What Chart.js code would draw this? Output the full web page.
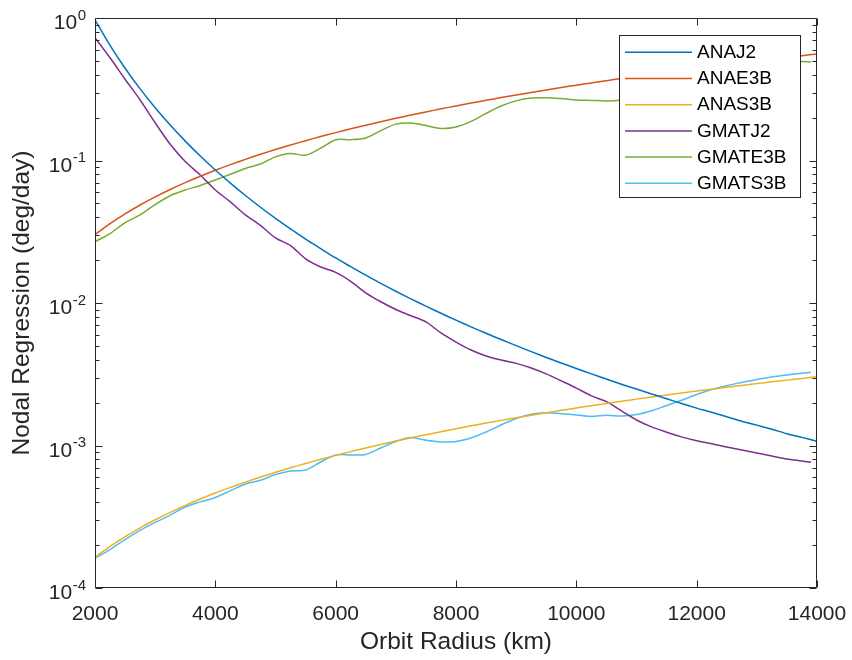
<!DOCTYPE html>
<html>
<head>
<meta charset="utf-8">
<script src="https://cdn.jsdelivr.net/npm/chart.js@4/dist/chart.umd.min.js"></script>
<style>
  html, body { margin: 0; padding: 0; background: #ffffff; }
  canvas { display: block; }
</style>
</head>
<body>
<canvas id="chart" width="852" height="660" style="width:852px;height:660px"></canvas>
<script>
// Orbit radius samples (km) for the analytical models
const radiusKm = [2000,2250,2500,2750,3000,3250,3500,3750,4000,4250,4500,4750,5000,5250,5500,5750,
  6000,6250,6500,6750,7000,7250,7500,7750,8000,8250,8500,8750,9000,9250,9500,9750,
  10000,10250,10500,10750,11000,11250,11500,11750,12000,12250,12500,12750,13000,13250,13500,13750,14000];

// Orbit radius samples (km) for the GMAT propagations
const gmatRadiusKm = [2000,2250,2500,2750,3000,3250,3500,3750,4000,4250,4500,4750,5000,5250,5500,5750,
  6000,6250,6500,6750,7000,7250,7500,7750,8000,8250,8500,8750,9000,9250,9500,9750,
  10000,10250,10500,10750,11000,11250,11500,11750,12000,12250,12500,12750,13000,13250,13500,13750,13900];

// Nodal regression rates (deg/day)
const anaJ2 = [0.970,0.642,0.444,0.318,0.2347,0.1773,0.1368,0.1075,0.0857,0.0694,0.0568,0.0470,0.0393,0.0331,
  0.0281,0.0241,0.0207,0.0180,0.01567,0.01373,0.01209,0.01070,0.00950,0.00847,0.00758,0.00680,0.00613,
  0.00554,0.00502,0.00456,0.00415,0.00379,0.00347,0.00318,0.00293,0.00269,0.00249,0.00230,0.00213,0.00197,
  0.00183,0.00171,0.00159,0.00148,0.00139,0.00130,0.00121,0.00114,0.00107];

const anaE3B = [0.0302,0.0360,0.0422,0.0487,0.0555,0.0626,0.0699,0.0775,0.0854,0.0935,0.1019,0.1105,0.1194,
  0.1284,0.1377,0.1472,0.1569,0.1668,0.1769,0.1872,0.1977,0.2084,0.2193,0.2304,0.2416,0.2530,0.2646,0.2764,
  0.2883,0.3004,0.3126,0.3251,0.3376,0.3504,0.3633,0.3763,0.3895,0.4029,0.4164,0.4300,0.4438,0.4578,0.4719,
  0.4861,0.5005,0.5150,0.5296,0.5444,0.5593];

const anaS3B = [1.640e-4,1.957e-4,2.292e-4,2.644e-4,3.013e-4,3.397e-4,3.797e-4,4.211e-4,4.639e-4,5.080e-4,
  5.535e-4,6.003e-4,6.483e-4,6.975e-4,7.479e-4,7.995e-4,8.522e-4,9.060e-4,9.609e-4,1.0168e-3,1.0739e-3,
  1.1319e-3,1.1909e-3,1.2510e-3,1.3120e-3,1.3740e-3,1.4369e-3,1.5008e-3,1.5655e-3,1.6312e-3,1.6978e-3,
  1.7652e-3,1.8336e-3,1.9028e-3,1.9728e-3,2.0437e-3,2.1154e-3,2.1879e-3,2.2612e-3,2.3354e-3,2.4103e-3,
  2.4860e-3,2.5625e-3,2.6398e-3,2.7178e-3,2.7966e-3,2.8761e-3,2.9563e-3,3.0373e-3];

const gmatJ2 = [0.727,0.526,0.372,0.266,0.184,0.130,0.0984,0.0791,0.0621,0.0512,0.0415,0.0350,0.0286,0.0253,
  0.0204,0.0179,0.0164,0.0142,0.0118,0.0102,0.0090,0.00814,0.00736,0.00616,0.00532,0.00468,0.00425,0.00398,
  0.00377,0.00350,0.00318,0.00284,0.00253,0.00223,0.00203,0.00175,0.00151,0.00135,0.00124,0.00115,0.00108,
  0.00103,0.000976,0.000929,0.000885,0.000843,0.000803,0.000778,0.000762];

const gmatE3B = [0.0269,0.0307,0.0367,0.0415,0.0491,0.0566,0.0621,0.0668,0.0730,0.0800,0.0879,0.0945,0.106,
  0.112,0.109,0.122,0.140,0.140,0.144,0.162,0.180,0.183,0.176,0.168,0.172,0.188,0.214,0.241,0.262,0.274,
  0.276,0.272,0.266,0.264,0.262,0.266,0.279,0.303,0.328,0.350,0.367,0.385,0.411,0.432,0.453,0.468,0.483,
  0.495,0.491];

const gmatS3B = [1.616e-4,1.862e-4,2.188e-4,2.535e-4,2.884e-4,3.25e-4,3.70e-4,4.02e-4,4.32e-4,4.82e-4,
  5.37e-4,5.70e-4,6.25e-4,6.62e-4,6.73e-4,7.66e-4,8.58e-4,8.58e-4,8.65e-4,9.60e-4,1.067e-3,1.138e-3,
  1.087e-3,1.059e-3,1.067e-3,1.129e-3,1.245e-3,1.393e-3,1.547e-3,1.659e-3,1.699e-3,1.671e-3,1.637e-3,
  1.599e-3,1.629e-3,1.611e-3,1.648e-3,1.753e-3,1.910e-3,2.076e-3,2.280e-3,2.472e-3,2.630e-3,2.769e-3,
  2.909e-3,3.027e-3,3.126e-3,3.217e-3,3.266e-3];

const seriesNames = ['ANAJ2', 'ANAE3B', 'ANAS3B', 'GMATJ2', 'GMATE3B', 'GMATS3B'];
const seriesColors = ['#0072BD', '#D95319', '#EDB120', '#7E2F8E', '#77AC30', '#4DBEEE'];

// Axis tick labels
const xTickValues = [2000, 4000, 6000, 8000, 10000, 12000, 14000];
const yTickExponents = [-4, -3, -2, -1, 0];

const FONT = "'Liberation Sans', Arial, Helvetica, sans-serif";
const AXIS_COLOR = '#262626';

function toPoints(xs, ys) {
  return xs.map((x, i) => ({ x: x, y: ys[i] }));
}

const seriesData = [
  toPoints(radiusKm, anaJ2),
  toPoints(radiusKm, anaE3B),
  toPoints(radiusKm, anaS3B),
  toPoints(gmatRadiusKm, gmatJ2),
  toPoints(gmatRadiusKm, gmatE3B),
  toPoints(gmatRadiusKm, gmatS3B)
];

// Box, inward ticks, superscript y labels and the in-plot legend
const matlabAxesPlugin = {
  id: 'matlabAxes',
  afterDatasetsDraw(chart) {
    const ctx = chart.ctx;
    const area = chart.chartArea;
    const xs = chart.scales.x;
    const ys = chart.scales.y;
    const L = Math.round(area.left) + 0.5;
    const R = Math.round(area.right) - 0.5;
    const T = Math.round(area.top) + 0.5;
    const B = Math.round(area.bottom) - 0.5;
    ctx.save();
    ctx.strokeStyle = AXIS_COLOR;
    ctx.lineWidth = 1;
    ctx.beginPath();
    ctx.rect(L, T, R - L, B - T);
    ctx.stroke();

    const major = 7, minor = 4;
    ctx.beginPath();
    xTickValues.forEach(v => {
      const px = Math.round(xs.getPixelForValue(v)) + 0.5;
      ctx.moveTo(px, B); ctx.lineTo(px, B - major);
      ctx.moveTo(px, T); ctx.lineTo(px, T + major);
    });
    yTickExponents.forEach((e, idx) => {
      const py = Math.round(ys.getPixelForValue(Math.pow(10, e))) + 0.5;
      ctx.moveTo(L, py); ctx.lineTo(L + major, py);
      ctx.moveTo(R, py); ctx.lineTo(R - major, py);
      if (idx < yTickExponents.length - 1) {
        for (let m = 2; m <= 9; m++) {
          const pm = Math.round(ys.getPixelForValue(m * Math.pow(10, e))) + 0.5;
          ctx.moveTo(L, pm); ctx.lineTo(L + minor, pm);
          ctx.moveTo(R, pm); ctx.lineTo(R - minor, pm);
        }
      }
    });
    ctx.stroke();

    // y tick labels as 10 with a raised exponent
    ctx.fillStyle = AXIS_COLOR;
    ctx.textBaseline = 'middle';
    ctx.textAlign = 'right';
    yTickExponents.forEach(e => {
      const py = ys.getPixelForValue(Math.pow(10, e));
      const expText = String(e);
      const rightEdge = area.left - 9;
      ctx.font = '15px ' + FONT;
      const expW = ctx.measureText(expText).width;
      ctx.fillText(expText, rightEdge, py - 2.5);
      ctx.font = '21px ' + FONT;
      ctx.fillText('10', rightEdge - expW - 0.5, py + 5.5);
    });

    // legend
    const lx = 619.5, ly = 35.5, lw = 181, lh = 162;
    ctx.fillStyle = '#ffffff';
    ctx.fillRect(lx, ly, lw, lh);
    ctx.strokeStyle = AXIS_COLOR;
    ctx.lineWidth = 1;
    ctx.strokeRect(lx, ly, lw, lh);
    ctx.font = '19px ' + FONT;
    ctx.textAlign = 'left';
    ctx.textBaseline = 'middle';
    chart.data.datasets.forEach((ds, i) => {
      const ry = 52.3 + i * 26.2;
      ctx.strokeStyle = ds.borderColor;
      ctx.lineWidth = 1.5;
      ctx.beginPath();
      ctx.moveTo(625, ry);
      ctx.lineTo(692, ry);
      ctx.stroke();
      ctx.fillStyle = '#000000';
      ctx.fillText(ds.label, 697, ry + 0.5);
    });
    ctx.restore();
  }
};

new Chart(document.getElementById('chart'), {
  type: 'line',
  data: {
    datasets: seriesNames.map((name, i) => ({
      label: name,
      data: seriesData[i],
      borderColor: seriesColors[i],
      backgroundColor: seriesColors[i],
      borderWidth: 1.5,
      pointRadius: 0,
      fill: false,
      tension: 0.3
    }))
  },
  options: {
    responsive: false,
    animation: false,
    devicePixelRatio: 1,
    layout: { padding: { top: 18, right: 35, left: 0, bottom: 0 } },
    plugins: {
      legend: { display: false },
      tooltip: { enabled: false }
    },
    scales: {
      x: {
        type: 'linear',
        min: 2000,
        max: 14000,
        afterBuildTicks: s => { s.ticks = xTickValues.map(v => ({ value: v })); },
        afterFit: s => { s.height = 72; s.paddingLeft = 0; s.paddingRight = 0; },
        grid: { display: false, drawTicks: false },
        border: { display: false },
        ticks: {
          color: AXIS_COLOR,
          font: { family: FONT, size: 21 },
          padding: 14,
          maxRotation: 0,
          autoSkip: false,
          callback: v => String(v)
        },
        title: {
          display: true,
          text: 'Orbit Radius (km)',
          color: AXIS_COLOR,
          font: { family: FONT, size: 24.5 },
          padding: { top: 0, bottom: 3.3 }
        }
      },
      y: {
        type: 'logarithmic',
        min: 1e-4,
        max: 1,
        afterFit: s => { s.width = 95; s.paddingTop = 0; s.paddingBottom = 0; },
        grid: { display: false, drawTicks: false },
        border: { display: false },
        ticks: { display: false },
        title: {
          display: true,
          text: 'Nodal Regression (deg/day)',
          color: AXIS_COLOR,
          font: { family: FONT, size: 24.5 },
          padding: { top: 7.3, bottom: 0 }
        }
      }
    }
  },
  plugins: [matlabAxesPlugin]
});
</script>
</body>
</html>
